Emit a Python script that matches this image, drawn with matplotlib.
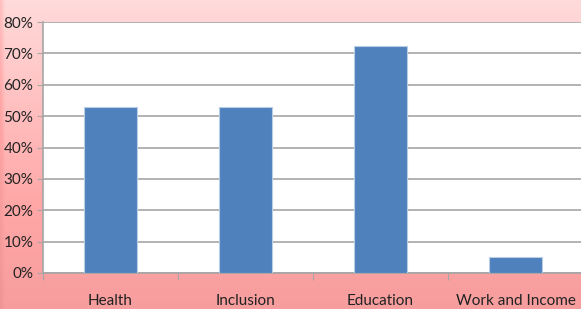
import numpy as np
from matplotlib import pyplot as plt
from matplotlib.colors import LinearSegmentedColormap

# data
categories = ['Health', 'Inclusion', 'Education', 'Work and Income']
values = [53, 53, 72.3, 5.2]  # percent
yticks = [0, 10, 20, 30, 40, 50, 60, 70, 80]

plt.rcParams['font.family'] = ['Lato', 'DejaVu Sans']

fig = plt.figure(figsize=(5.81, 3.09), dpi=100)

# pink gradient background, slightly darker strip at the left edge
bg = fig.add_axes([0, 0, 1, 1], zorder=-10)
yy = np.linspace(0, 1, 200)[:, None]
xx = np.linspace(0, 1, 581)[None, :]
grad = yy + 0.35 * np.clip(1 - xx * 581 / 5, 0, 1)
cmap = LinearSegmentedColormap.from_list('pink', ['#FFDADA', '#FFA6A6', '#EE9494'])
bg.imshow(grad, cmap=cmap, aspect='auto', extent=[0, 1, 0, 1], vmin=0, vmax=1.35)
bg.axis('off')

ax = fig.add_axes([43 / 581, 36 / 309, 540 / 581, 251 / 309])
ax.set_facecolor('white')
x = np.arange(len(categories))
ax.bar(x, values, width=0.39, color='#4F81BD', edgecolor='#B9CDE5', linewidth=0.8, zorder=3)

ax.set_ylim(0, 80)
ax.set_xlim(-0.5, 3.5)
ax.set_yticks(yticks)
ax.set_yticklabels([f'{v}%' for v in yticks], fontsize=11, color='#222222')
ax.yaxis.grid(True, color='#A6A6A6', linewidth=1.2)
ax.set_axisbelow(True)

ax.set_xticks(np.arange(-0.5, 3.6, 1))
ax.set_xticklabels([])
ax.set_xticks(x, minor=True)
ax.set_xticklabels(categories, minor=True, fontsize=11, color='#222222')
ax.tick_params(axis='x', which='major', length=5, color='#A6A6A6', direction='out')
ax.tick_params(axis='x', which='minor', length=0, pad=15)
ax.tick_params(axis='y', length=4, color='#A6A6A6', pad=3)

for s in ['top', 'right']:
    ax.spines[s].set_visible(False)
for s in ['left', 'bottom']:
    ax.spines[s].set_color('#A6A6A6')
    ax.spines[s].set_linewidth(1.2)

fig.savefig('out.png', dpi=100)
